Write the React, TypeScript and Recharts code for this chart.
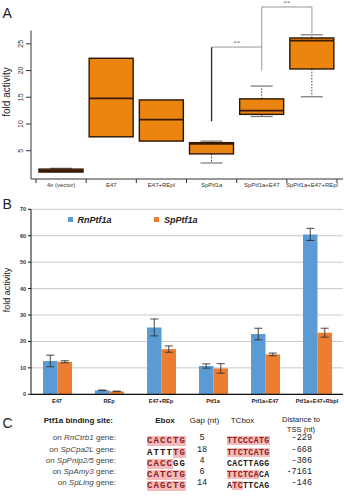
import React from 'react';
import { ComposedChart, BarChart, Bar, XAxis, YAxis, CartesianGrid, ErrorBar, Legend, ReferenceLine } from 'recharts';

// panel A - box plot
const boxCats = ['4x (vector)', 'E47', 'E47+REpl', 'SpPtf1a', 'SpPtf1a+E47', 'SpPtf1a+E47+REpl'];
const boxLo = [1.0, 7.6, 6.8, 2.7, 11.4, 15.1];
const boxQ1 = [1.0, 7.6, 6.8, 4.4, 11.8, 20.3];
const boxMed = [1.2, 14.8, 10.8, 6.3, 12.5, 25.6];
const boxQ3 = [1.55, 22.3, 14.5, 6.5, 14.7, 26.1];
const boxHi = [1.7, 22.3, 14.5, 6.8, 17.1, 26.7];
const boxTicks = [5, 10, 15, 20, 25];

// significance brackets (category, value)
const brackets = [
  { a: ['SpPtf1a', 10.5], b: ['SpPtf1a', 24.4], dark: true, star: false },
  { a: ['SpPtf1a', 24.4], b: ['SpPtf1a+E47', 24.4], dark: false, star: true },
  { a: ['SpPtf1a+E47', 20], b: ['SpPtf1a+E47', 31.9], dark: false, star: false },
  { a: ['SpPtf1a+E47', 31.9], b: ['SpPtf1a+E47+REpl', 31.9], dark: false, star: true },
  { a: ['SpPtf1a+E47+REpl', 31.9], b: ['SpPtf1a+E47+REpl', 27.0], dark: false, star: false },
];

// panel B - bars
const barCats = ['E47', 'REp', 'E47+REp', 'Ptf1a', 'Ptf1a+E47', 'Ptf1a+E47+Rbpl'];
const rnVals = [12.6, 1.5, 25.3, 10.7, 22.8, 60.5];
const rnErr = [2.2, 0.1, 3.2, 0.8, 2.2, 2.3];
const spVals = [12.3, 1.1, 17.1, 9.8, 15.1, 23.3];
const spErr = [0.4, 0.1, 1.2, 1.8, 0.5, 1.7];
const barTicks = [0, 10, 20, 30, 40, 50, 60, 70];

// panel C - table
const siteGenes = ['RnCtrb1', 'SpCpa2L', 'SpPnlp2/5', 'SpAmy3', 'SpLing'];
const eboxSeq = ['CACCTG', 'ATTTTG', 'CACCGG', 'CATCTG', 'CAGCTG'];
const eboxMark = ['111111', '000011', '111100', '111111', '111111'];
const gapNt = ['5', '18', '4', '6', '14'];
const tcSeq = ['TTCCCATG', 'TTCTCATG', 'CACTTAGG', 'TTCTCACA', 'ATCTTCAG'];
const tcMark = ['11111111', '11111111', '00000000', '11111100', '01100000'];
const tssDist = ['-229', '-668', '-306', '-7161', '-146'];

const boxData = boxCats.map((cat, i) => ({
  cat, range: [boxQ1[i], boxQ3[i]], q1: boxQ1[i], q3: boxQ3[i], med: boxMed[i], lo: boxLo[i], hi: boxHi[i],
}));

const barData = barCats.map((cat, i) => ({
  cat, rn: rnVals[i], rnErr: rnErr[i], sp: spVals[i], spErr: spErr[i],
}));

const SANS = '"Liberation Sans", Arial, sans-serif';
const MONO = '"Liberation Mono", "DejaVu Sans Mono", monospace';

const BoxShape = (props: any) => {
  const { x, y, width, height, payload } = props;
  const top = Math.min(y, y + height);
  const h = Math.abs(height);
  const { q1, q3, med, lo, hi } = payload;
  const k = h / (q3 - q1);
  const py = (v: number) => top + (q3 - v) * k;
  const cx = x + width / 2;
  const cw = width / 4;
  return (
    <g>
      {hi > q3 && (
        <g>
          <line x1={cx} x2={cx} y1={py(q3)} y2={py(hi)} stroke="#444" strokeDasharray="1.5 1.5" />
          <line x1={cx - cw} x2={cx + cw} y1={py(hi)} y2={py(hi)} stroke="#777" strokeWidth={1.2} />
        </g>
      )}
      {lo < q1 && (
        <g>
          <line x1={cx} x2={cx} y1={py(q1)} y2={py(lo)} stroke="#444" strokeDasharray="1.5 1.5" />
          <line x1={cx - cw} x2={cx + cw} y1={py(lo)} y2={py(lo)} stroke="#777" strokeWidth={1.2} />
        </g>
      )}
      <rect x={x} y={top} width={width} height={h} fill="#ec8410" stroke="#2b1706" strokeWidth={1.4} />
      <line x1={x} x2={x + width} y1={py(med)} y2={py(med)} stroke="#3a1a02" strokeWidth={1.8} />
    </g>
  );
};

const BoxXTick = (props: any) => {
  const { x, y, payload, index, visibleTicksCount } = props;
  const off = payload && payload.offset ? payload.offset : 25;
  return (
    <g>
      <line x1={x - off} x2={x - off} y1={y} y2={y + 4} stroke="#333" />
      {index === visibleTicksCount - 1 && <line x1={x + off} x2={x + off} y1={y} y2={y + 4} stroke="#333" />}
      <text x={x} y={y + 8} textAnchor="middle" fontSize={6} fill="#333" fontFamily={SANS}>{payload.value}</text>
    </g>
  );
};

const BoxYTick = (props: any) => {
  const { x, y, payload } = props;
  return (
    <text x={x} y={y} transform={`rotate(-90, ${x}, ${y})`} textAnchor="middle" fontSize={7} fill="#333" fontFamily={SANS}>
      {payload.value}
    </text>
  );
};

const BarXTick = (props: any) => {
  const { x, y, payload } = props;
  return (
    <text x={x} y={y + 8.7} textAnchor="middle" fontSize={5.6} fontWeight="bold" fill="#222" fontFamily={SANS}>
      {payload.value}
    </text>
  );
};

const BarLegend = (props: any) => {
  const { payload } = props;
  const xs = [67.5, 154];
  return (
    <div style={{ position: 'relative', width: 344, height: 12 }}>
      {(payload || []).map((p: any, i: number) => (
        <div key={p.value} style={{ position: 'absolute', left: xs[i], top: 0, display: 'flex', alignItems: 'center', height: 10 }}>
          <span style={{ width: 5, height: 5, background: p.color, display: 'inline-block', marginRight: 5 }} />
          <span style={{ fontFamily: SANS, fontSize: 9, fontWeight: 'bold', fontStyle: 'italic', color: '#222' }}>{p.value}</span>
        </div>
      ))}
    </div>
  );
};

const RotLabel = ({ cx, cy, text, size }: { cx: number; cy: number; text: string; size: number }) => (
  <div style={{
    position: 'absolute', left: cx, top: cy, transform: 'translate(-50%, -50%) rotate(-90deg)',
    whiteSpace: 'nowrap', fontSize: size, fontFamily: SANS, color: '#222', lineHeight: 1,
  }}>{text}</div>
);

const Seq = ({ seq, mark, size, spacing }: { seq: string; mark: string; size: number; spacing: number }) => (
  <span style={{ fontFamily: MONO, fontWeight: 'bold', fontSize: size }}>
    {seq.split('').map((ch, i) => (
      <span key={i} style={{
        letterSpacing: spacing,
        background: mark[i] === '1' ? '#f5baba' : 'transparent',
        color: mark[i] === '1' ? '#8e1c1c' : '#1a1a1a',
      }}>{ch}</span>
    ))}
  </span>
);

const rowY = (i: number) => 438.3 + i * 11.25;

const Cell = ({ y, h = 10, left, center, right, children, style }: any) => {
  const base: React.CSSProperties = { position: 'absolute', top: y - h / 2, lineHeight: `${h}px`, height: h, whiteSpace: 'nowrap', ...style };
  if (left !== undefined) return <div style={{ ...base, left }}>{children}</div>;
  if (right !== undefined) return <div style={{ ...base, right: 344 - right }}>{children}</div>;
  return <div style={{ ...base, left: center, transform: 'translateX(-50%)' }}>{children}</div>;
};

const letter = (ch: string, top: number) => (
  <div style={{ position: 'absolute', left: 2.5, top, fontSize: 14, lineHeight: '14px', fontFamily: SANS, color: '#222' }}>{ch}</div>
);

export default function App() {
  const head = { fontFamily: SANS, fontSize: 8, color: '#222' };
  const rowLab = { fontFamily: SANS, fontSize: 8, color: '#444' };
  const mono = { fontFamily: MONO, fontSize: 8.5, color: '#222' };
  return (
    <div style={{ position: 'relative', width: 344, height: 500, background: '#fff', overflow: 'hidden' }}>
      <style>{'body{margin:0}'}</style>

      {/* A */}
      <div style={{ position: 'absolute', left: 0, top: 0, width: 344, height: 195 }}>
        <ComposedChart width={344} height={195} data={boxData} margin={{ top: 30.5, right: 1, bottom: 0, left: 0 }}>
          <XAxis dataKey="cat" type="category" interval={0} padding={{ left: 5, right: 6 }} height={16}
            tickSize={0} tickMargin={0} tickLine={false} axisLine={{ stroke: '#333' }} tick={<BoxXTick />} />
          <YAxis type="number" domain={[-0.3, 27.5]} ticks={boxTicks} width={31} tickSize={5} tickMargin={3}
            axisLine={{ stroke: '#333' }} tickLine={{ stroke: '#333' }} tick={<BoxYTick />} />
          <Bar dataKey="range" barSize={44} isAnimationActive={false} shape={(p: any) => <BoxShape {...p} />} />
          {brackets.map((b, i) => (
            <ReferenceLine key={i} ifOverflow="visible"
              segment={[{ x: b.a[0], y: b.a[1] }, { x: b.b[0], y: b.b[1] }]}
              stroke={b.dark ? '#333' : '#8a8a8a'} strokeWidth={b.dark ? 1.4 : 0.9}
              label={b.star ? { value: '**', position: 'top', fontSize: 7, fill: '#666', offset: 2 } : undefined} />
          ))}
        </ComposedChart>
      </div>
      {letter('A', 6.4)}
      <RotLabel cx={7} cy={92} text="fold activity" size={10} />

      {/* B */}
      <div style={{ position: 'absolute', left: 0, top: 195, width: 344, height: 216 }}>
        <BarChart width={344} height={216} data={barData} margin={{ top: 14.3, right: 1, bottom: 0, left: 0 }} barGap={0}>
          <CartesianGrid vertical={false} stroke="#c9c9c9" />
          <XAxis dataKey="cat" interval={0} height={16.7} tickSize={0} tickMargin={0} tickLine={false}
            axisLine={{ stroke: '#111', strokeWidth: 1.2 }} tick={<BarXTick />} />
          <YAxis type="number" domain={[0, 70]} ticks={barTicks} width={31} tickSize={3} tickMargin={2}
            axisLine={{ stroke: '#111' }} tickLine={{ stroke: '#111' }}
            tick={{ fontSize: 5.5, fontWeight: 'bold', fill: '#333', fontFamily: SANS }} />
          <Legend layout="horizontal" verticalAlign="middle" align="center" content={<BarLegend />}
            wrapperStyle={{ left: 0, top: 19.5, width: 344 }} />
          <Bar dataKey="rn" name="RnPtf1a" fill="#5b9bd5" barSize={14.5} isAnimationActive={false}>
            <ErrorBar dataKey="rnErr" width={4} stroke="#333" strokeWidth={0.9} />
          </Bar>
          <Bar dataKey="sp" name="SpPtf1a" fill="#ed7d31" barSize={14.5} isAnimationActive={false}>
            <ErrorBar dataKey="spErr" width={4} stroke="#333" strokeWidth={0.9} />
          </Bar>
        </BarChart>
      </div>
      {letter('B', 197)}
      <RotLabel cx={7} cy={290} text="fold activity" size={9} />

      {/* C */}
      {letter('C', 415.8)}
      <Cell y={420.7} h={9} right={113} style={{ ...head, fontWeight: 'bold' }}>Ptf1a binding site:</Cell>
      <Cell y={420.7} h={9} center={165} style={{ ...head, fontWeight: 'bold' }}>Ebox</Cell>
      <Cell y={420.7} h={9} center={204.5} style={head}>Gap (nt)</Cell>
      <Cell y={420.7} h={9} center={242.5} style={head}>TCbox</Cell>
      <Cell y={420} h={7.5} center={301} style={{ ...head, fontSize: 7.6 }}>Distance to</Cell>
      <Cell y={429.3} h={7.5} center={301} style={{ ...head, fontSize: 7.6 }}>TSS (nt)</Cell>
      {siteGenes.map((g, i) => (
        <React.Fragment key={g}>
          <Cell y={rowY(i)} right={116} style={rowLab}>on <i>{g}</i> gene:</Cell>
          <Cell y={rowY(i)} left={147}>
            <Seq seq={eboxSeq[i]} mark={eboxMark[i]} size={9} spacing={1.1} />
          </Cell>
          <Cell y={rowY(i)} center={202} style={mono}>{gapNt[i]}</Cell>
          <Cell y={rowY(i)} left={227}>
            <Seq seq={tcSeq[i]} mark={tcMark[i]} size={8.2} spacing={0.4} />
          </Cell>
          <Cell y={rowY(i) + 0.5} h={9} right={312} style={mono}>{tssDist[i]}</Cell>
        </React.Fragment>
      ))}
    </div>
  );
}
